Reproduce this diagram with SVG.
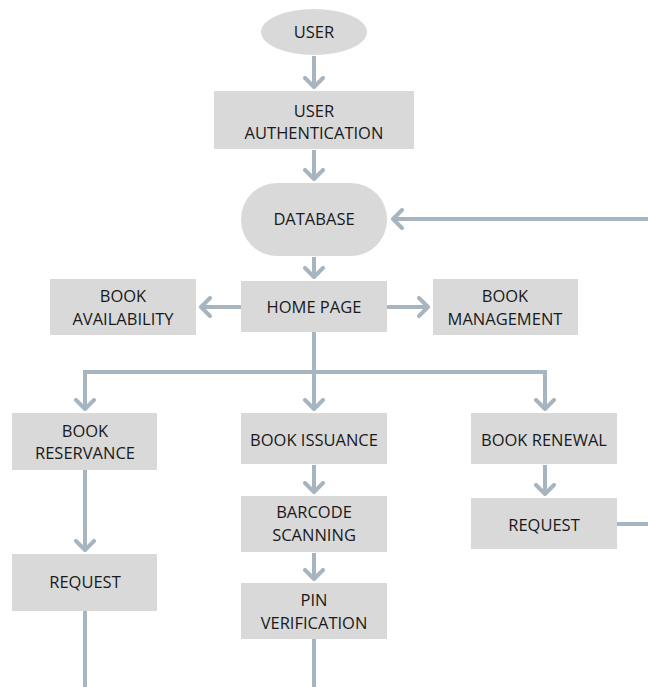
<svg xmlns="http://www.w3.org/2000/svg" width="648" height="687" viewBox="0 0 648 687">
<defs>
<style>
.box{fill:#D9D9D9}
.t{font-family:"Open Sans","Liberation Sans",sans-serif;font-size:16.5px;fill:#1a1a1a;text-anchor:middle}
.c{fill:none;stroke:#A6B5BF;stroke-width:4}
</style>
<marker id="ah" viewBox="0 0 14 22" refX="11" refY="11" markerWidth="14" markerHeight="22" markerUnits="userSpaceOnUse" orient="auto">
<path d="M2,2 L11,11 L2,20" fill="none" stroke="#A6B5BF" stroke-width="4" stroke-linecap="round" stroke-linejoin="round"/>
</marker>
</defs>
<rect width="648" height="687" fill="#fff"/>
<g id="connectors">
<line class="c" x1="314" y1="56" x2="314" y2="87" marker-end="url(#ah)"/>
<line class="c" x1="314" y1="150" x2="314" y2="179" marker-end="url(#ah)"/>
<line class="c" x1="648" y1="219" x2="393" y2="219" marker-end="url(#ah)"/>
<line class="c" x1="314" y1="257" x2="314" y2="277" marker-end="url(#ah)"/>
<line class="c" x1="241" y1="307" x2="201" y2="307" marker-end="url(#ah)"/>
<line class="c" x1="387" y1="307" x2="428" y2="307" marker-end="url(#ah)"/>
<line class="c" x1="314" y1="332" x2="314" y2="409" marker-end="url(#ah)"/>
<polyline class="c" points="85,409 85,372 545,372 545,409" marker-end="url(#ah)"/>
<line class="c" x1="85" y1="372" x2="85" y2="409" marker-end="url(#ah)"/>
<line class="c" x1="85" y1="470" x2="85" y2="550" marker-end="url(#ah)"/>
<line class="c" x1="314" y1="465" x2="314" y2="492" marker-end="url(#ah)"/>
<line class="c" x1="314" y1="553" x2="314" y2="579" marker-end="url(#ah)"/>
<line class="c" x1="545" y1="465" x2="545" y2="494" marker-end="url(#ah)"/>
<line class="c" x1="617" y1="524" x2="648" y2="524"/>
<line class="c" x1="85" y1="611" x2="85" y2="687"/>
<line class="c" x1="314" y1="639" x2="314" y2="687"/>
</g>
<g id="user"><ellipse class="box" cx="314" cy="32" rx="53" ry="23"/><text class="t" x="314" y="38">USER</text></g>
<g id="user-auth"><rect class="box" x="214" y="91" width="200" height="58"/><text class="t" x="314" y="117">USER</text><text class="t" x="314" y="139">AUTHENTICATION</text></g>
<g id="database"><rect class="box" x="241" y="183" width="146" height="73" rx="36" ry="36"/><text class="t" x="314" y="225">DATABASE</text></g>
<g id="home-page"><rect class="box" x="241" y="281" width="146" height="51"/><text class="t" x="314" y="313">HOME PAGE</text></g>
<g id="book-availability"><rect class="box" x="50" y="279" width="146" height="56"/><text class="t" x="123" y="302">BOOK</text><text class="t" x="123" y="325">AVAILABILITY</text></g>
<g id="book-management"><rect class="box" x="433" y="279" width="145" height="56"/><text class="t" x="505" y="302">BOOK</text><text class="t" x="505" y="325">MANAGEMENT</text></g>
<g id="book-reservance"><rect class="box" x="12" y="413" width="145" height="57"/><text class="t" x="85" y="437">BOOK</text><text class="t" x="85" y="459">RESERVANCE</text></g>
<g id="book-issuance"><rect class="box" x="241" y="413" width="146" height="51"/><text class="t" x="314" y="446">BOOK ISSUANCE</text></g>
<g id="book-renewal"><rect class="box" x="471" y="413" width="146" height="51"/><text class="t" x="544" y="446">BOOK RENEWAL</text></g>
<g id="barcode-scanning"><rect class="box" x="241" y="496" width="146" height="56"/><text class="t" x="314" y="518">BARCODE</text><text class="t" x="314" y="541">SCANNING</text></g>
<g id="request-renewal"><rect class="box" x="471" y="498" width="146" height="51"/><text class="t" x="544" y="531">REQUEST</text></g>
<g id="request-reservance"><rect class="box" x="12" y="554" width="145" height="57"/><text class="t" x="85" y="588">REQUEST</text></g>
<g id="pin-verification"><rect class="box" x="241" y="583" width="146" height="56"/><text class="t" x="314" y="606">PIN</text><text class="t" x="314" y="629">VERIFICATION</text></g>
</svg>
